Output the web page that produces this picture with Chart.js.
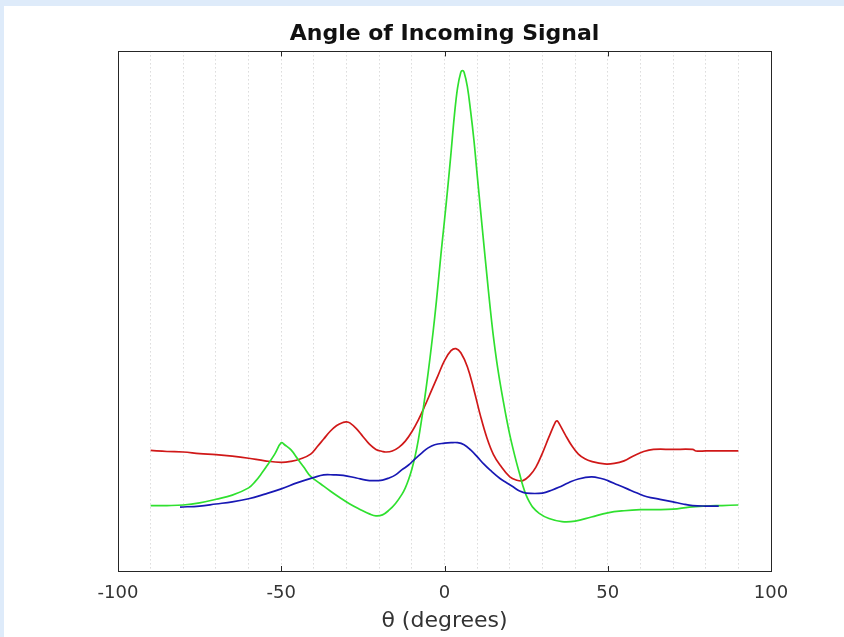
<!DOCTYPE html>
<html>
<head>
<meta charset="utf-8">
<script src="https://cdn.jsdelivr.net/npm/chart.js@4.4.1/dist/chart.umd.min.js"></script>
<style>
  html, body { margin: 0; padding: 0; background: #deebfa; width: 844px; height: 637px; overflow: hidden; }
  #wrap { position: absolute; left: 4px; top: 6px; width: 840px; height: 631px; background: #ffffff; }
  canvas { display: block; }
</style>
</head>
<body>
<div id="wrap"><canvas id="c" width="840" height="631"></canvas></div>
<script>
// ---- data (angle in degrees, arbitrary power units) ----
const chartTitle = "Angle of Incoming Signal";
const xAxisTitle = "θ (degrees)";
const xTickLabels = [-100, -50, 0, 50, 100];

const redAngles = [-90,-85,-80,-75,-70,-65,-60,-55,-50,-47,-44,-41,-39,-37,-35,-33,-31,-30,-29,-27,-25,-23,-21,-19,-18,-16,-14,-12,-10,-8,-6,-4,-2,0,2,3.5,5,7,9,11,13,15,17,20,22,24,26,28,30,32,34,34.5,35,37,39,41,43,45,49,52,55,58,61,64,70,76,77,80,85,90];
const redValues = [23.2,23.0,22.9,22.6,22.4,22.1,21.7,21.2,20.9,21.1,21.6,22.5,23.9,25.4,26.9,28.0,28.6,28.7,28.5,27.4,25.9,24.4,23.4,23.0,22.9,23.1,23.8,25.0,26.8,29.1,31.8,34.7,37.6,40.5,42.4,42.8,42.0,39.3,34.9,29.9,25.6,22.4,20.4,18.1,17.5,17.4,18.3,20.0,22.7,25.8,28.7,28.9,28.5,26.2,24.1,22.5,21.6,21.1,20.6,20.7,21.2,22.2,23.0,23.4,23.4,23.4,23.1,23.1,23.1,23.1];

const greenAngles = [-90,-85,-80,-75,-70,-65,-60,-58,-56,-54,-52,-50,-49,-47,-45,-43,-41,-38,-35,-32,-29,-26,-23,-21,-19,-17,-15,-13,-12,-11,-10,-9,-8,-7,-6,-5,-4,-3,-2,-1,0,1,2,3,4,5,5.5,6,7,8,9,10,11,12,13,14,15,16,17,18,19,20,21,22,23,24,25,26,27,29,32,36,40,45,50,55,60,65,70,75,80,85,90];
const greenValues = [12.6,12.6,12.7,13.1,13.8,14.6,16.0,17.2,18.8,20.6,22.5,24.7,24.3,23.3,21.6,19.9,18.2,16.8,15.4,14.1,12.9,11.9,11.0,10.6,10.8,11.7,13.0,14.8,16.0,17.6,19.6,22.1,25.3,29.2,33.5,38.2,43.3,48.8,55.0,61.5,67.5,73.8,80.5,87.5,93.0,96.0,96.3,96.0,93.2,88.5,83.0,76.3,69.7,63.2,56.8,50.6,45.0,40.3,36.3,32.7,29.3,26.2,23.5,21.0,18.7,16.4,14.6,13.3,12.3,11.1,10.1,9.5,9.6,10.4,11.2,11.6,11.8,11.8,11.9,12.3,12.5,12.6,12.7];

const blueAngles = [-81,-75,-70,-65,-60,-55,-50,-45,-40,-37,-34,-31,-27,-24,-22,-19,-17,-15,-13,-11,-9,-7,-5,-3,0,2,4,6,8,10,12,14,17,19,21,23,25,30,33,35,38,41,45,48,50,53,56,59,62,66,70,73,76,80,84];
const blueValues = [12.3,12.5,12.9,13.3,13.9,14.8,15.8,17.0,18.0,18.5,18.5,18.4,17.9,17.5,17.4,17.5,17.9,18.5,19.5,20.4,21.6,22.7,23.7,24.3,24.6,24.7,24.7,24.3,23.3,22.0,20.6,19.4,17.8,17.0,16.2,15.4,15.0,15.0,15.6,16.1,17.0,17.7,18.1,17.8,17.4,16.6,15.8,15.0,14.3,13.8,13.3,12.9,12.6,12.5,12.5];

const pts = (xs, ys) => xs.map((x, i) => ({ x: x, y: ys[i] }));

const frameAndTicks = {
  id: 'frameAndTicks',
  afterDraw(chart) {
    const { ctx, chartArea: a, scales } = chart;
    ctx.save();
    ctx.strokeStyle = '#262626';
    ctx.lineWidth = 1;
    ctx.strokeRect(Math.round(a.left) + 0.5, Math.round(a.top) + 0.5,
                   Math.round(a.right - a.left), Math.round(a.bottom - a.top));
    xTickLabels.forEach(v => {
      const px = Math.round(scales.x.getPixelForValue(v)) + 0.5;
      ctx.beginPath();
      ctx.moveTo(px, a.bottom); ctx.lineTo(px, a.bottom - 5);
      ctx.moveTo(px, a.top); ctx.lineTo(px, a.top + 5);
      ctx.stroke();
    });
    ctx.restore();
  }
};

const lineStyle = { borderWidth: 1.7, pointRadius: 0, tension: 0.4 };

new Chart(document.getElementById('c'), {
  type: 'line',
  data: {
    datasets: [
      Object.assign({ data: pts(redAngles, redValues), borderColor: '#d01818', order: 3 }, lineStyle),
      Object.assign({ data: pts(greenAngles, greenValues), borderColor: '#2fe02f', order: 2 }, lineStyle),
      Object.assign({ data: pts(blueAngles, blueValues), borderColor: '#1818b4', order: 1 }, lineStyle)
    ]
  },
  options: {
    responsive: false,
    animation: false,
    events: [],
    layout: { padding: { left: 114, right: 73, top: 0, bottom: 0 } },
    plugins: {
      legend: { display: false },
      tooltip: { enabled: false },
      title: {
        display: true,
        text: chartTitle,
        color: '#111111',
        font: { family: 'DejaVu Sans', size: 22, weight: 'bold' },
        padding: { top: 15, bottom: 4 }
      }
    },
    scales: {
      x: {
        type: 'linear',
        min: -100, max: 100,
        afterFit: s => { s.height = 66; },
        border: { display: false, dash: [1, 3] },
        grid: {
          drawTicks: false,
          lineWidth: 1,
          color: c => (c.tick && Math.abs(c.tick.value) === 100) ? 'rgba(0,0,0,0)' : '#c8c8c8'
        },
        ticks: {
          stepSize: 10,
          autoSkip: false,
          maxRotation: 0,
          padding: 12,
          color: '#333333',
          font: { family: 'DejaVu Sans', size: 18 },
          callback: v => xTickLabels.includes(v) ? String(v) : ''
        },
        title: {
          display: true,
          text: xAxisTitle,
          color: '#333333',
          font: { family: 'DejaVu Sans', size: 22 },
          padding: { top: 0, bottom: 3 }
        }
      },
      y: {
        display: false,
        min: 0, max: 100
      }
    }
  },
  plugins: [frameAndTicks]
});
</script>
</body>
</html>
